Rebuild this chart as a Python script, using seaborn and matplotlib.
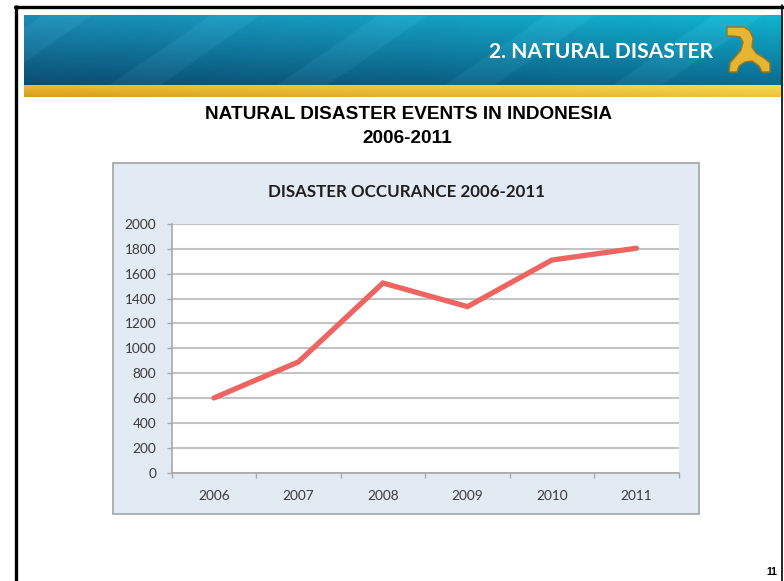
import numpy as np
import pandas as pd
import matplotlib
matplotlib.use("Agg")
import matplotlib.pyplot as plt
from matplotlib.patches import Rectangle, Polygon
import seaborn as sns

# ---- data -------------------------------------------------------------
years = ["2006", "2007", "2008", "2009", "2010", "2011"]
events = [600, 890, 1525, 1335, 1710, 1805]
y_ticks = [0, 200, 400, 600, 800, 1000, 1200, 1400, 1600, 1800, 2000]

slide_title = "2. NATURAL DISASTER"
subtitle_1 = "NATURAL DISASTER EVENTS IN INDONESIA"
subtitle_2 = "2006-2011"
chart_title = "DISASTER OCCURANCE 2006-2011"
page_no = "11"

W, H = 784, 581
sns.set_theme(style="ticks")
plt.rcParams["font.family"] = ["Lato", "DejaVu Sans"]

fig = plt.figure(figsize=(W / 100, H / 100), dpi=100)
fig.patch.set_facecolor("white")

# background "slide" axes in pixel coordinates
bg = fig.add_axes([0, 0, 1, 1], zorder=0)
bg.set_xlim(0, W)
bg.set_ylim(H, 0)
bg.axis("off")


def hexrgb(h):
    h = h.lstrip("#")
    return np.array([int(h[i:i + 2], 16) for i in (0, 2, 4)]) / 255.0


# banner gradient
bx0, bx1, by0, by1 = 24, 781, 15, 86
nx, ny = 300, 80
s = np.linspace(0, 1, nx)[None, :, None]
t = np.linspace(0, 1, ny)[:, None, None]
tl, tr = hexrgb("#1a8cb5"), hexrgb("#10b4d0")
bl, br = hexrgb("#0a4c70"), hexrgb("#0a6a90")
img = (1 - t) * ((1 - s) * tl + s * tr) + t * ((1 - s) * bl + s * br)
xx = np.linspace(0, 1, nx)[None, :]
yy = np.linspace(0, 1, ny)[:, None]
streak = 0.035 * (np.sin((xx * 9 + yy * 1.2) * np.pi) > 0.6)
img = np.clip(img + streak[..., None], 0, 1)
bg.imshow(img, extent=(bx0, bx1, by1, by0), aspect="auto", zorder=1,
          interpolation="bilinear")

# gold strip
gy0, gy1 = 86, 97.5
g = np.linspace(0, 1, 20)[:, None, None]
gs = np.linspace(0, 1, 200)[None, :, None]
gold_top = (1 - gs) * hexrgb("#ebbb2e") + gs * hexrgb("#f7da55")
gold_bot = (1 - gs) * hexrgb("#d69e1f") + gs * hexrgb("#ecc23b")
gimg = (1 - g) * gold_top + g * gold_bot
bg.imshow(gimg, extent=(bx0, bx1, gy1, gy0), aspect="auto", zorder=1,
          interpolation="bilinear")

# slide frame
bg.plot([16, 16], [5, H], color="black", lw=2.4, zorder=3,
        solid_capstyle="butt")
bg.plot([15, 783], [6.5, 6.5], color="black", lw=2.4, zorder=3)
bg.plot([782.5, 782.5], [5, H], color="black", lw=1.2, zorder=3)

# logo (approximate golden emblem)
logo = [(727, 27), (744, 27), (750, 31), (753, 38), (752, 47), (756, 53),
        (764, 58), (770, 63), (770, 72), (762, 72), (759, 66), (752, 61),
        (745, 62), (739, 66), (737, 72), (729, 72), (730, 63), (736, 56),
        (741, 50), (743, 42), (740, 37), (733, 36), (727, 36)]
bg.add_patch(Polygon(logo, closed=True, fc="#e7b534", ec="#9c7418",
                     lw=1.0, zorder=4))

# texts
renderer = fig.canvas.get_renderer()


def fit(txt, width_px):
    bb = txt.get_window_extent(renderer=renderer)
    txt.set_fontsize(txt.get_fontsize() * width_px / bb.width)


t1 = bg.text(601, 57.5, slide_title, color="white", fontweight="bold",
             fontsize=18, ha="center", va="baseline", zorder=5,
             family=["Lato", "DejaVu Sans"])
fit(t1, 223)

t2 = bg.text(409, 119, subtitle_1, color="black", fontweight="bold",
             fontsize=12, ha="center", va="baseline", zorder=5,
             family=["Liberation Sans", "DejaVu Sans"])
fit(t2, 408)
t3 = bg.text(407.5, 143.3, subtitle_2, color="black", fontweight="bold",
             fontsize=t2.get_fontsize(), ha="center", va="baseline", zorder=5,
             family=["Liberation Sans", "DejaVu Sans"])

# chart box
bg.add_patch(Rectangle((113, 163), 586, 351, fc="#e2eaf4", ec="#a3a3a3",
                       lw=1.2, zorder=2))
t4 = bg.text(406.5, 196.7, chart_title, color="#1f1f1f", fontweight="bold",
             fontsize=11, ha="center", va="baseline", zorder=5,
             family=["Lato", "DejaVu Sans"])
fit(t4, 277)

t5 = bg.text(771.5, 575, page_no, color="black", fontweight="bold",
             fontsize=7.5, ha="center", va="baseline", zorder=5,
             family=["Liberation Sans", "DejaVu Sans"])

# ---- chart axes --------------------------------------------------------
px0, px1, py_top, py_bot = 171.7, 678.7, 224, 472.5
ax = fig.add_axes([px0 / W, 1 - py_bot / H, (px1 - px0) / W,
                   (py_bot - py_top) / H], zorder=3)
ax.set_facecolor("white")

df = pd.DataFrame({"year": years, "events": events})
sns.lineplot(data=df, x="year", y="events", ax=ax, color="#ee6461",
             lw=3.8, sort=False)
for ln in ax.lines:
    ln.set_solid_capstyle("round")
    ln.set_solid_joinstyle("miter")

ax.set_xlim(-0.5, len(years) - 0.5)
ax.set_ylim(0, 2000)
ax.set_yticks(y_ticks)
ax.set_yticklabels([str(v) for v in y_ticks])
ax.set_xticks(range(len(years)))
ax.set_xticklabels(years)
ax.set_xticks(np.arange(-0.5, len(years)), minor=True)
ax.set_xlabel("")
ax.set_ylabel("")

ax.yaxis.grid(True, color="#c3c3c3", lw=1.5)
ax.set_axisbelow(True)
for side in ("top", "right"):
    ax.spines[side].set_visible(False)
for side in ("left", "bottom"):
    ax.spines[side].set_color("#a8a8a8")
    ax.spines[side].set_linewidth(1.2)

ax.tick_params(axis="y", which="major", left=True, length=3.6, width=1.0,
               color="#a8a8a8", pad=7.5, labelsize=9.8, labelcolor="#3a3a3a")
ax.tick_params(axis="x", which="major", bottom=True, length=0, pad=12.5,
               labelsize=9.8, labelcolor="#3a3a3a")
ax.tick_params(axis="x", which="minor", bottom=True, length=3.6, width=1.0,
               color="#a8a8a8")
for lab in ax.get_xticklabels() + ax.get_yticklabels():
    lab.set_family(["Lato", "DejaVu Sans"])

fig.savefig("out.png", dpi=100)
